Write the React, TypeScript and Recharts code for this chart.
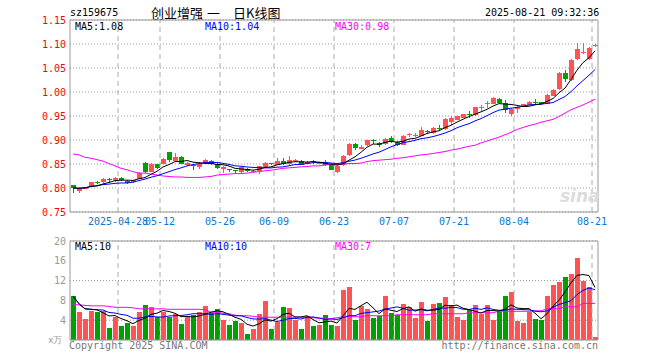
import React from 'react';
import {
    ComposedChart, Bar, Line, XAxis, YAxis, CartesianGrid, ReferenceLine, Cell,
} from 'recharts';

const dates = [
    '2025-04-16', '2025-04-17', '2025-04-18', '2025-04-21', '2025-04-22', '2025-04-23', '2025-04-24', '2025-04-25',
    '2025-04-28', '2025-04-29', '2025-04-30', '2025-05-06', '2025-05-07', '2025-05-08', '2025-05-09', '2025-05-12',
    '2025-05-13', '2025-05-14', '2025-05-15', '2025-05-16', '2025-05-19', '2025-05-20', '2025-05-21', '2025-05-22',
    '2025-05-23', '2025-05-26', '2025-05-27', '2025-05-28', '2025-05-29', '2025-05-30', '2025-06-03', '2025-06-04',
    '2025-06-05', '2025-06-06', '2025-06-09', '2025-06-10', '2025-06-11', '2025-06-12', '2025-06-13', '2025-06-16',
    '2025-06-17', '2025-06-18', '2025-06-19', '2025-06-20', '2025-06-23', '2025-06-24', '2025-06-25', '2025-06-26',
    '2025-06-27', '2025-06-30', '2025-07-01', '2025-07-02', '2025-07-03', '2025-07-04', '2025-07-07', '2025-07-08',
    '2025-07-09', '2025-07-10', '2025-07-11', '2025-07-14', '2025-07-15', '2025-07-16', '2025-07-17', '2025-07-18',
    '2025-07-21', '2025-07-22', '2025-07-23', '2025-07-24', '2025-07-25', '2025-07-28', '2025-07-29', '2025-07-30',
    '2025-07-31', '2025-08-01', '2025-08-04', '2025-08-05', '2025-08-06', '2025-08-07', '2025-08-08', '2025-08-11',
    '2025-08-12', '2025-08-13', '2025-08-14', '2025-08-15', '2025-08-18', '2025-08-19', '2025-08-20', '2025-08-21',
];

const opens = [
    0.806, 0.792, 0.798, 0.803, 0.812, 0.812, 0.818, 0.817, 0.821, 0.815, 0.812, 0.819, 0.852, 0.834, 0.850, 0.850,
    0.874, 0.857, 0.865, 0.848, 0.848, 0.844, 0.852, 0.857, 0.850, 0.838, 0.839, 0.837, 0.833, 0.840, 0.833, 0.835,
    0.845, 0.852, 0.849, 0.856, 0.851, 0.856, 0.857, 0.851, 0.856, 0.850, 0.855, 0.851, 0.834, 0.848, 0.869, 0.891,
    0.882, 0.889, 0.901, 0.894, 0.892, 0.904, 0.896, 0.890, 0.910, 0.909, 0.909, 0.918, 0.915, 0.926, 0.923, 0.937,
    0.942, 0.946, 0.954, 0.952, 0.967, 0.975, 0.975, 0.986, 0.977, 0.955, 0.963, 0.970, 0.974, 0.979, 0.979, 0.976,
    0.993, 1.006, 1.039, 1.024, 1.069, 1.082, 1.069, 1.096,
];
const highs = [
    0.807, 0.800, 0.803, 0.813, 0.814, 0.821, 0.821, 0.823, 0.822, 0.816, 0.817, 0.833, 0.855, 0.853, 0.851, 0.862,
    0.875, 0.872, 0.866, 0.854, 0.849, 0.854, 0.861, 0.858, 0.852, 0.845, 0.840, 0.838, 0.845, 0.842, 0.838, 0.846,
    0.855, 0.853, 0.862, 0.862, 0.867, 0.860, 0.859, 0.857, 0.858, 0.855, 0.858, 0.852, 0.848, 0.868, 0.893, 0.894,
    0.889, 0.901, 0.902, 0.895, 0.905, 0.909, 0.897, 0.911, 0.915, 0.914, 0.928, 0.920, 0.927, 0.931, 0.945, 0.951,
    0.951, 0.955, 0.961, 0.969, 0.973, 0.981, 0.989, 0.987, 0.984, 0.966, 0.970, 0.976, 0.981, 0.985, 0.980, 0.996,
    1.007, 1.041, 1.046, 1.069, 1.103, 1.103, 1.093, 1.100,
];
const lows = [
    0.789, 0.789, 0.797, 0.802, 0.808, 0.810, 0.811, 0.813, 0.815, 0.809, 0.811, 0.818, 0.832, 0.833, 0.840, 0.849,
    0.855, 0.856, 0.850, 0.846, 0.838, 0.839, 0.851, 0.848, 0.839, 0.832, 0.834, 0.830, 0.831, 0.834, 0.831, 0.829,
    0.844, 0.848, 0.848, 0.847, 0.845, 0.854, 0.847, 0.850, 0.851, 0.849, 0.845, 0.837, 0.832, 0.845, 0.867, 0.880,
    0.881, 0.888, 0.892, 0.886, 0.890, 0.893, 0.888, 0.889, 0.906, 0.906, 0.908, 0.913, 0.913, 0.921, 0.921, 0.932,
    0.941, 0.945, 0.946, 0.951, 0.961, 0.967, 0.974, 0.975, 0.956, 0.951, 0.956, 0.968, 0.972, 0.973, 0.973, 0.975,
    0.991, 1.004, 1.021, 1.022, 1.066, 1.079, 1.066, 1.094,
];
const closes = [
    0.800, 0.799, 0.802, 0.812, 0.810, 0.819, 0.815, 0.821, 0.816, 0.811, 0.816, 0.832, 0.834, 0.850, 0.842, 0.861,
    0.857, 0.865, 0.851, 0.852, 0.845, 0.850, 0.858, 0.851, 0.841, 0.843, 0.836, 0.834, 0.844, 0.836, 0.836, 0.845,
    0.853, 0.850, 0.857, 0.849, 0.859, 0.859, 0.848, 0.855, 0.853, 0.853, 0.848, 0.839, 0.846, 0.866, 0.891, 0.883,
    0.886, 0.899, 0.899, 0.889, 0.903, 0.897, 0.889, 0.909, 0.912, 0.910, 0.921, 0.916, 0.925, 0.924, 0.943, 0.945,
    0.950, 0.954, 0.952, 0.968, 0.969, 0.977, 0.988, 0.977, 0.963, 0.965, 0.968, 0.975, 0.980, 0.978, 0.975, 0.994,
    1.005, 1.040, 1.026, 1.066, 1.090, 1.084, 1.091, 1.097,
];
const priceMa30 = [
    0.871, 0.869, 0.864, 0.862, 0.859, 0.856, 0.851, 0.846, 0.841, 0.838, 0.834, 0.831, 0.831, 0.829, 0.827, 0.825,
    0.824, 0.823, 0.823, 0.822, 0.822, 0.822, 0.823, 0.824, 0.827, 0.828, 0.829, 0.830, 0.830, 0.831, 0.833, 0.834,
    0.836, 0.837, 0.839, 0.841, 0.842, 0.843, 0.844, 0.845, 0.846, 0.846, 0.848, 0.849, 0.849, 0.850, 0.851, 0.851,
    0.852, 0.855, 0.857, 0.858, 0.859, 0.860, 0.862, 0.863, 0.865, 0.867, 0.869, 0.870, 0.872, 0.874, 0.876, 0.879,
    0.881, 0.884, 0.887, 0.889, 0.894, 0.898, 0.902, 0.906, 0.911, 0.916, 0.922, 0.926, 0.930, 0.933, 0.937, 0.940,
    0.943, 0.949, 0.956, 0.963, 0.968, 0.973, 0.979, 0.985,
];
// volume, 万手
const volumes = [
    8.9, 5.7, 4.3, 5.9, 5.7, 5.9, 2.5, 4.7, 2.9, 3.5, 2.9, 5.7, 7.1, 6.7, 4.7, 5.6,
    4.7, 5.3, 3.3, 4.9, 5.1, 5.7, 6.9, 5.5, 6.3, 4.1, 3.1, 3.9, 3.5, 1.3, 2.3, 5.3,
    7.9, 2.3, 3.7, 6.7, 6.5, 4.1, 2.3, 4.9, 2.9, 3.1, 5.1, 3.1, 2.9, 10.1, 10.7, 4.1,
    6.9, 6.3, 4.5, 4.8, 8.9, 5.5, 5.1, 7.3, 6.7, 4.5, 7.7, 3.9, 7.3, 7.5, 8.7, 7.1,
    4.7, 4.1, 6.1, 7.1, 5.3, 7.1, 4.1, 5.7, 8.9, 9.7, 3.9, 3.5, 5.7, 4.3, 4.1, 8.9,
    11.1, 11.7, 12.7, 13.3, 16.5, 11.9, 10.7, 0.7,
];
const volMa30 = [
    7.2, 7.1, 7.0, 6.9, 6.9, 6.9, 6.8, 6.6, 6.6, 6.6, 6.5, 6.3, 6.3, 6.3, 6.3, 6.3,
    6.2, 6.2, 6.2, 6.2, 6.2, 6.2, 6.1, 5.6, 5.6, 5.4, 5.3, 5.0, 4.9, 4.9, 4.8, 4.6,
    4.6, 4.6, 4.6, 4.6, 4.6, 4.6, 4.6, 4.5, 4.5, 4.4, 4.4, 4.3, 4.5, 4.7, 4.7, 4.7,
    4.7, 4.9, 4.9, 4.9, 4.9, 4.9, 5.1, 5.1, 5.1, 5.1, 5.1, 5.1, 5.3, 5.3, 5.3, 5.3,
    5.3, 5.3, 5.5, 5.5, 5.5, 5.5, 5.5, 5.8, 5.8, 5.8, 5.8, 5.8, 5.8, 5.9, 5.9, 6.3,
    6.3, 6.3, 6.7, 6.7, 6.7, 7.4, 7.4, 7.4,
];

const tickDates = ['2025-04-28', '2025-05-12', '2025-05-26', '2025-06-09', '2025-06-23', '2025-07-07', '2025-07-21', '2025-08-04', '2025-08-21'];
const tickLabels = ['2025-04-28', '05-12', '05-26', '06-09', '06-23', '07-07', '07-21', '08-04', '08-21'];
const priceTicks = [0.75, 0.80, 0.85, 0.90, 0.95, 1.00, 1.05, 1.10, 1.15];
const volTicks = [0, 4, 8, 12, 16, 20];

const MONO = '"DejaVu Sans Mono", monospace';
const RED = '#ff5252';
const GREEN = '#00a000';
const FRAME = '#999';
const GRID = '#aaa';

function movingAvg(vals: number[], n: number) {
    return vals.map((_, i) => {
        const s = vals.slice(Math.max(0, i - n + 1), i + 1);
        return s.reduce((a, b) => a + b, 0) / s.length;
    });
}

const ma5 = movingAvg(closes, 5);
const ma10 = movingAvg(closes, 10);
const vma5 = movingAvg(volumes, 5);
const vma10 = movingAvg(volumes, 10);

const data = dates.map((d, i) => ({
    date: d,
    open: opens[i], high: highs[i], low: lows[i], close: closes[i],
    range: [lows[i], highs[i]],
    ma5: ma5[i], ma10: ma10[i], ma30: priceMa30[i],
    vol: volumes[i], vma5: vma5[i], vma10: vma10[i], vma30: volMa30[i],
}));

const Candle = (props: any) => {
    const {x, y, width, height, payload} = props;
    const {open, close, high, low} = payload;
    const color = close >= open ? RED : GREEN;
    const top = height < 0 ? y + height : y;
    const h = Math.abs(height);
    const span = high - low;
    const toY = (v: number) => (span > 0 ? top + (high - v) / span * h : top);
    const left = Math.floor(x);
    const cx = left + 2.5;
    const bTop = toY(Math.max(open, close));
    const bBot = toY(Math.min(open, close));
    return (
        <g shapeRendering="crispEdges">
            <line x1={cx} x2={cx} y1={top} y2={top + h} stroke={color}/>
            <rect x={left} y={Math.round(bTop)} width={5} height={Math.max(1, Math.round(bBot - bTop))} fill={color}/>
        </g>
    );
};

const VolBar = (props: any) => {
    const {x, y, height, fill} = props;
    return <rect x={Math.floor(x)} y={Math.round(y)} width={5} height={Math.max(0, Math.round(height))}
                 fill={fill} shapeRendering="crispEdges"/>;
};

const DateTick = (props: any) => {
    const {x, y, payload} = props;
    const idx = tickDates.indexOf(payload.value);
    if (idx < 0) return <g/>;
    return (
        <text x={x - 3} y={y + 11} textAnchor="middle" fill="#0a78d0" fontSize={10} fontFamily={MONO}>
            {tickLabels[idx]}
        </text>
    );
};

const txt = (left: number, top: number, color: string, s: string, extra: any = {}) => (
    <div style={{
        position: 'absolute', left, top, color, fontFamily: MONO, fontSize: 10,
        lineHeight: '12px', whiteSpace: 'pre', ...extra,
    }}>{s}</div>
);

export default function App() {
    const lastDate = dates[dates.length - 1];
    return (
        <div style={{position: 'absolute', left: 0, top: 0, width: 660, height: 360, background: '#fff', overflow: 'hidden'}}>
            {txt(70, 7, '#000', 'sz159675')}
            <div style={{
                position: 'absolute', left: 151, top: 4, fontFamily: '"Noto Sans CJK SC", sans-serif',
                fontSize: 13, lineHeight: '18px', color: '#000', whiteSpace: 'pre',
            }}>
                <span>创业增强</span>
                <span style={{position: 'absolute', left: 56}}>一</span>
                <span style={{position: 'absolute', left: 82}}>日K线图</span>
            </div>
            {txt(485, 7, '#000', '2025-08-21 09:32:36')}

            <div style={{position: 'absolute', left: 0, top: 0}}>
                <ComposedChart width={660} height={232} data={data}
                               margin={{top: 20, right: 62, bottom: 0, left: 0}}>
                    <CartesianGrid vertical={false} stroke={FRAME} strokeDasharray="1 2"/>
                    <XAxis dataKey="date" interval={0} tick={<DateTick/>} tickLine={false} tickSize={0}
                           axisLine={{stroke: FRAME}} height={20}/>
                    <YAxis type="number" domain={[0.75, 1.15]} allowDataOverflow ticks={priceTicks} width={70}
                           tickFormatter={(v: number) => v.toFixed(2)} tickLine={false} tickSize={0} tickMargin={4}
                           axisLine={{stroke: FRAME}}
                           tick={{fill: '#ff0000', fontSize: 10, fontFamily: MONO}}/>
                    {tickDates.map(d => (
                        <ReferenceLine key={d} x={d} position="start" stroke={GRID} strokeDasharray="5 4"/>
                    ))}
                    <ReferenceLine y={1.15} stroke={FRAME}/>
                    <ReferenceLine x={lastDate} position="end" stroke={FRAME}/>
                    <Bar dataKey="range" barSize={5} shape={<Candle/>} isAnimationActive={false}/>
                    <Line type="linear" dataKey="ma30" stroke="#ff00ff" dot={false} strokeWidth={1} isAnimationActive={false}/>
                    <Line type="linear" dataKey="ma10" stroke="#0000ff" dot={false} strokeWidth={1} isAnimationActive={false}/>
                    <Line type="linear" dataKey="ma5" stroke="#000000" dot={false} strokeWidth={1} isAnimationActive={false}/>
                </ComposedChart>
            </div>
            <div style={{
                position: 'absolute', left: 560, top: 186, color: '#dcdcdc', fontFamily: '"DejaVu Sans", sans-serif',
                fontSize: 17, fontWeight: 'bold', fontStyle: 'italic', lineHeight: '20px',
            }}>sina</div>
            {txt(75, 21, '#000', 'MA5:1.08')}
            {txt(205, 21, '#0000ff', 'MA10:1.04')}
            {txt(335, 21, '#ff00ff', 'MA30:0.98')}

            <div style={{position: 'absolute', left: 0, top: 230}}>
                <ComposedChart width={660} height={130} data={data}
                               margin={{top: 11, right: 62, bottom: 20, left: 0}}>
                    <CartesianGrid vertical={false} stroke={FRAME} strokeDasharray="1 2"/>
                    <XAxis dataKey="date" hide/>
                    <YAxis type="number" domain={[0, 20]} allowDataOverflow ticks={volTicks} width={70}
                           tickFormatter={(v: number) => (v === 0 ? '' : String(v))} tickLine={false} tickSize={0}
                           tickMargin={4} axisLine={{stroke: FRAME}}
                           tick={{fill: '#999', fontSize: 10, fontFamily: MONO}}/>
                    {tickDates.map(d => (
                        <ReferenceLine key={d} x={d} position="start" stroke={GRID} strokeDasharray="5 4"/>
                    ))}
                    <ReferenceLine y={20} stroke={FRAME}/>
                    <ReferenceLine y={0} stroke={FRAME}/>
                    <ReferenceLine x={lastDate} position="end" stroke={FRAME}/>
                    <Bar dataKey="vol" barSize={5} shape={<VolBar/>} isAnimationActive={false}>
                        {data.map((d, i) => <Cell key={i} fill={d.close >= d.open ? RED : GREEN}/>)}
                    </Bar>
                    <Line type="linear" dataKey="vma30" stroke="#ff00ff" dot={false} strokeWidth={1} isAnimationActive={false}/>
                    <Line type="linear" dataKey="vma10" stroke="#0000ff" dot={false} strokeWidth={1} isAnimationActive={false}/>
                    <Line type="linear" dataKey="vma5" stroke="#000000" dot={false} strokeWidth={1} isAnimationActive={false}/>
                </ComposedChart>
            </div>
            {txt(75, 241, '#000', 'MA5:10')}
            {txt(205, 241, '#0000ff', 'MA10:10')}
            {txt(335, 241, '#ff00ff', 'MA30:7')}
            {txt(48, 334, '#999', 'x万', {fontSize: 9})}
            {txt(69, 340, '#777', 'Copyright 2025 SINA.COM')}
            {txt(598, 340, '#777', 'http://finance.sina.com.cn', {transform: 'translateX(-100%)'})}
        </div>
    );
}
